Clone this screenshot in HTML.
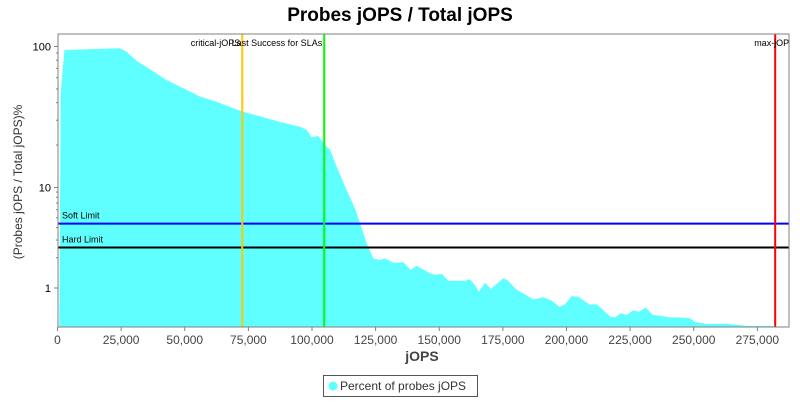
<!DOCTYPE html>
<html><head><meta charset="utf-8"><style>
body{margin:0;background:#fff;font-family:"Liberation Sans",sans-serif}
</style></head><body>
<svg width="800" height="400" xmlns="http://www.w3.org/2000/svg" font-family="Liberation Sans, sans-serif">
<defs><clipPath id="pc"><rect x="58" y="34" width="731" height="293"/></clipPath></defs>
<text x="400" y="21" text-anchor="middle" font-size="19" font-weight="bold">Probes jOPS / Total jOPS</text>
<rect x="58" y="34" width="731" height="293" fill="#fff"/>
<g id="plot" clip-path="url(#pc)"></g>
<rect x="58" y="34" width="731" height="293" fill="none" stroke="#808080"/>
<g id="axes"></g>
<text x="422" y="361" text-anchor="middle" font-size="14" font-weight="bold" fill="#444">jOPS</text>
<text transform="translate(22,182) rotate(-90)" text-anchor="middle" font-size="12" fill="#333">(Probes jOPS / Total jOPS)%</text>
<g>
<rect x="323.5" y="375.5" width="154" height="21" fill="#fff" stroke="#555"/>
<circle cx="333" cy="386" r="4.5" fill="#5fffff"/>
<text x="340" y="390" font-size="12" fill="#333">Percent of probes jOPS</text>
</g>
</svg>
<script>
const jops=[700,1250,2700,24500,27200,31100,36300,42900,49400,56000,62500,69100,73000,82200,88700,95300,97900,99900,102500,105100,107100,109700,113600,116900,118900,121500,124100,126700,128700,132000,135900,138800,141100,146400,148300,151000,153600,160100,162100,164000,165600,168000,170300,175200,177100,180200,187000,190900,194200,197200,199400,202000,204600,209200,211900,214500,217100,219100,221300,223700,226200,228600,231100,233900,236700,240700,243300,248500,250500,254400,263000,270800,281300];
const pct=[0.45,46.6,94.5,97.2,91.6,79,69,57.8,50.5,44.1,40.6,36.4,34.5,31,28.8,27,25.6,22.7,23.2,20,18.5,14.05,9.45,6.2,4.4,2.78,1.97,1.9,1.97,1.78,1.8,1.51,1.66,1.4,1.35,1.38,1.18,1.18,1.22,1.07,0.92,1.13,0.98,1.25,1.18,0.97,0.77,0.81,0.75,0.65,0.69,0.83,0.82,0.68,0.69,0.6,0.52,0.51,0.56,0.54,0.6,0.58,0.64,0.54,0.53,0.51,0.51,0.5,0.46,0.44,0.44,0.42,0.42];
const xTicks=[0,25000,50000,75000,100000,125000,150000,175000,200000,225000,250000,275000];
const yTicks=[1,10,100];
const markerNames=["critical-jOPS","Last Success for SLAs","max-jOPS"];
const markerValues=[72600,104800,282000];
const markerColors=["#ffc800","#00ff00","#ff0000"];
const limitNames=["Soft Limit","Hard Limit"];
const limitValues=[4.37,2.53];
const limitColors=["#0000ff","#000000"];
const NS="http://www.w3.org/2000/svg";
function X(v){return 57.5+v*2.545/1000;}
function Y(v){const l=Math.log10(v);return l>=1?187.5-141*(l-1):288-100.5*l;}
function mk(tag,attrs,parent){const e=document.createElementNS(NS,tag);for(const k in attrs)e.setAttribute(k,attrs[k]);parent.appendChild(e);return e;}
const plot=document.getElementById('plot'),axes=document.getElementById('axes');
let d="M"+X(jops[0])+",330";
for(let i=0;i<jops.length;i++)d+=" L"+X(jops[i]).toFixed(1)+","+Y(pct[i]).toFixed(1);
d+=" L"+X(jops[jops.length-1])+",330 Z";
const area=mk('path',{d:d,fill:'#5fffff'},plot);


limitValues.forEach((v,i)=>{
 const y=Y(v);
 const l=mk('line',{x1:58,x2:789,y1:y,y2:y,stroke:limitColors[i],'stroke-width':2},plot);
 
 
 const t=mk('text',{x:62,y:y-5,'font-size':9,fill:'#000'},plot);t.textContent=limitNames[i];
 
 
});
markerValues.forEach((v,i)=>{
 const x=X(v);
 const l=mk('line',{x1:x,x2:x,y1:34,y2:327,stroke:markerColors[i],'stroke-width':2},plot);
 
 
 const t=mk('text',{x:i==2?x-21:x-2,y:46,'font-size':9,fill:'#000','text-anchor':i==2?'start':'end'},plot);t.textContent=markerNames[i];
 
 
});
xTicks.forEach(v=>{
 const x=X(v);
 mk('line',{x1:x,x2:x,y1:327,y2:331,stroke:'#808080'},axes);
 const t=mk('text',{x:x,y:344,'font-size':12,fill:'#444','text-anchor':'middle'},axes);t.textContent=v.toLocaleString('en-US');
 
 
});
yTicks.forEach(v=>{
 const y=Y(v);
 mk('line',{x1:54,x2:58,y1:y,y2:y,stroke:'#808080'},axes);
 const t=mk('text',{x:51,y:y+4,'font-size':11,fill:'#000','text-anchor':'end'},axes);t.textContent=v;
 
 
 for(let m=2;m<10;m++){const vv=v*m;if(vv>100)break;const yy=Y(vv);mk('line',{x1:56,x2:58,y1:yy,y2:yy,stroke:'#808080'},axes);}
});
</script>
</body></html>
